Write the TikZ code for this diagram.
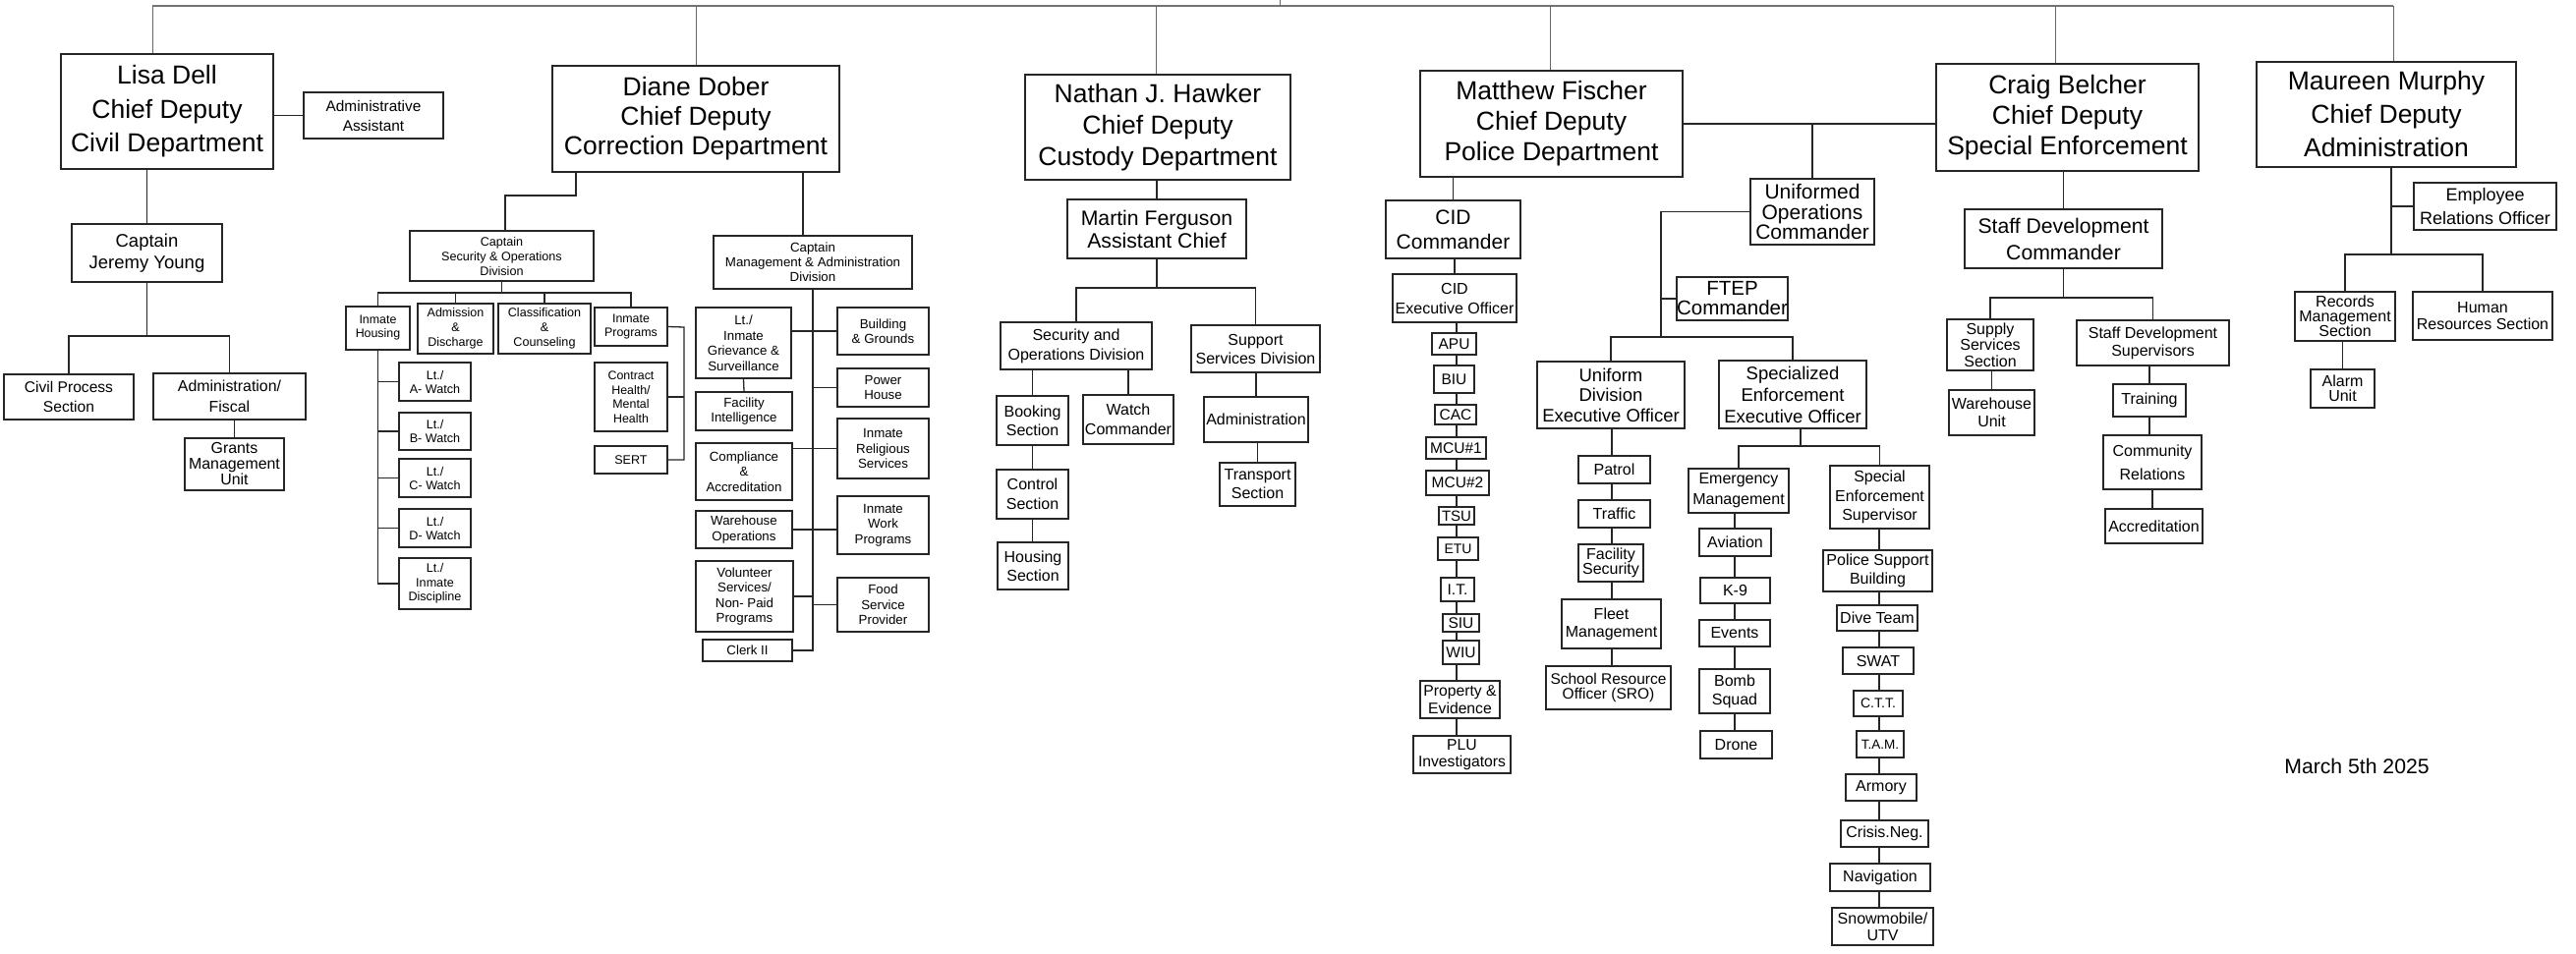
\documentclass[tikz,border=0pt]{standalone}
\usepackage{fontspec}
\setmainfont{Liberation Sans}
\newcommand{\fsz}[2]{\fontsize{#1}{#2}\selectfont}
\tikzset{
  bx/.style={draw=black!85,line width=1.4pt,inner sep=0pt,align=center,fill=white},
  ln/.style={draw=black!85,line width=1.3pt},
  topln/.style={draw=black!55,line width=2.6pt},
  drop/.style={draw=black!60,line width=1pt}
}
\newcommand{\bx}[7]{\node[bx,font={#6},minimum width={#4-#2},minimum height={#5-#3}] (#1) at ({(#2+#4)/2},{(#3+#5)/2}) {#7};}
\begin{document}
\begin{tikzpicture}[x=1pt,y=-1pt]
\useasboundingbox[fill=white] (0,0) rectangle (2621,971);
% ---------------- top level
\coordinate (trunkTop) at (1302,0);
\coordinate (trunkBot) at (1302,6);
\coordinate (tLisa) at (155,6);
\coordinate (tDiane) at (708,6);
\coordinate (tNathan) at (1176,6);
\coordinate (tMatt) at (1577,6);
\coordinate (tCraig) at (2091,6);
\coordinate (tMaureen) at (2435,6);
% chiefs
\bx{lisa}{62}{55}{278}{172}{\fsz{26.5}{34.5}}{Lisa Dell\\Chief Deputy\\Civil Department}
\bx{diane}{562}{67}{854}{175}{\fsz{26.5}{30}}{Diane Dober\\Chief Deputy\\Correction Department}
\bx{nathan}{1043}{76}{1313}{183}{\fsz{26.5}{32}}{Nathan J. Hawker\\Chief Deputy\\Custody Department}
\bx{matt}{1445}{72}{1712}{180}{\fsz{26.5}{31}}{Matthew Fischer\\Chief Deputy\\Police Department}
\bx{craig}{1970}{65}{2237}{174}{\fsz{26.5}{31}}{Craig Belcher\\Chief Deputy\\Special Enforcement}
\bx{maureen}{2296}{63}{2560}{170}{\fsz{26.5}{34}}{Maureen Murphy\\Chief Deputy\\Administration}
\draw[topln] (tLisa) -- (tMaureen);
\draw[drop] (trunkTop) -- (trunkBot);
\foreach \t/\n in {tLisa/lisa,tDiane/diane,tNathan/nathan,tMatt/matt,tCraig/craig,tMaureen/maureen}
  \draw[drop] (\t) -- (\t |- \n.north);
% ---------------- civil
\bx{aa}{309}{94}{451}{141}{\fsz{15.4}{20}}{Administrative\\Assistant}
\bx{jy}{73}{228}{226}{287}{\fsz{18.5}{22}}{Captain\\Jeremy Young}
\bx{cps}{4}{381}{136}{427}{\fsz{15.6}{20}}{Civil Process\\Section}
\bx{af}{156}{380}{311}{427}{\fsz{15.9}{21}}{Administration/\\Fiscal}
\bx{gmu}{188}{446}{289}{499}{\fsz{15.9}{16}}{Grants\\Management\\Unit}
\coordinate (jyB) at (150,342);
\draw[ln] (aa.west) -- (aa.west -| lisa.east);
\draw[ln] (jy.north) -- (jy.north |- lisa.south);
\draw[ln] (jy.south) -- (jy.south |- jyB);
\draw[ln] (cps.north) |- (af.north |- jyB) -- (af.north);
\draw[ln] (gmu.north) -- (gmu.north |- af.south);
% ---------------- corrections
\bx{cso}{417}{235}{604}{286}{\fsz{12.6}{15}}{Captain\\Security \& Operations\\Division}
\bx{cma}{726}{240}{928}{294}{\fsz{13.3}{15}}{Captain\\Management \& Administration\\Division}
\coordinate (dR) at (817,199);
\coordinate (dL) at (586,199);
\coordinate (dLL) at (514,199);
\draw[ln] (dR |- diane.south) -- (dR |- cma.north);
\draw[ln] (dL |- diane.south) -- (dL) -- (dLL) -- (dLL |- cso.north);
\coordinate (sbus) at (513,298);
\bx{ih}{352}{312}{417}{356}{\fsz{12.4}{14}}{Inmate\\Housing}
\bx{ad}{425}{309}{502}{360}{\fsz{12.5}{15}}{Admission\\\&\\Discharge}
\bx{cc}{507}{309}{601}{360}{\fsz{12.6}{15}}{Classification\\\&\\Counseling}
\bx{ip}{605}{313}{679}{352}{\fsz{12.4}{14}}{Inmate\\Programs}
\draw[ln] (cso.south) -- (cso.south |- sbus);
\draw[ln] (ih.north) |- (ip.north |- sbus) -- (ip.north);
\draw[ln] (ad.north) -- (ad.north |- sbus);
\draw[ln] (cc.north) -- (cc.north |- sbus);
\bx{wa}{406}{369}{479}{408}{\fsz{12.6}{14}}{Lt./\\A- Watch}
\bx{wb}{406}{420}{479}{458}{\fsz{12.6}{14}}{Lt./\\B- Watch}
\bx{wc}{406}{467}{479}{506}{\fsz{12.6}{14}}{Lt./\\C- Watch}
\bx{wd}{406}{518}{479}{557}{\fsz{12.6}{14}}{Lt./\\D- Watch}
\bx{wdis}{406}{568}{479}{620}{\fsz{12.6}{14.5}}{Lt./\\Inmate\\Discipline}
\draw[ln] (ih.south) |- (wdis.west);
\foreach \n in {wa,wb,wc,wd} \draw[ln] (\n.west) -- (\n.west -| ih.south);
\bx{ch}{605}{369}{679}{439}{\fsz{12.4}{14.5}}{Contract\\Health/\\Mental\\Health}
\bx{sert}{605}{454}{679}{482}{\fsz{12.6}{14}}{SERT}
\coordinate (pb) at (696,333);
\draw[ln] (ip.east) -- (pb) |- (sert.east);
\draw[ln] (ch.east) -- (ch.east -| pb);
\bx{gs}{708}{313}{805}{385}{\fsz{13.3}{15.5}}{Lt./\\Inmate\\Grievance \&\\Surveillance}
\bx{fi}{708}{399}{806}{438}{\fsz{13.3}{15.5}}{Facility\\Intelligence}
\bx{ca}{708}{451}{806}{509}{\fsz{13.3}{15.5}}{Compliance\\\&\\Accreditation}
\bx{wo}{708}{520}{806}{558}{\fsz{13.3}{15.5}}{Warehouse\\Operations}
\bx{vs}{708}{571}{807}{643}{\fsz{13.3}{15.5}}{Volunteer\\Services/\\Non- Paid\\Programs}
\bx{clk}{715}{651}{806}{673}{\fsz{13.3}{15}}{Clerk II}
\bx{bg}{852}{313}{945}{361}{\fsz{13.3}{15}}{Building\\\& Grounds}
\bx{ph}{852}{375}{945}{414}{\fsz{13.3}{15}}{Power\\House}
\bx{irs}{852}{426}{945}{487}{\fsz{13.3}{15.5}}{Inmate\\Religious\\Services}
\bx{iwp}{852}{505}{945}{564}{\fsz{13.3}{15.5}}{Inmate\\Work\\Programs}
\bx{fsp}{852}{588}{945}{643}{\fsz{13.3}{15.5}}{Food\\Service\\Provider}
\draw[ln] (cma.south) -- (cma.south |- clk.east) -- (clk.east);
\draw[ln] (gs.east |- bg.west) -- (bg.west);
\draw[ln] (gs.south) -- (fi.north);
\draw[ln] (ph.west) -- (ph.west -| cma.south);
\draw[ln] (irs.west) -- (irs.west -| ca.east);
\draw[ln] (wo.east) -- (wo.east -| iwp.west);
\draw[ln] (vs.east) -- (vs.east -| cma.south);
\draw[ln] (fsp.west) -- (fsp.west -| cma.south);
% ---------------- custody
\bx{mf}{1086}{203}{1268}{263}{\fsz{21.2}{23}}{Martin Ferguson\\Assistant Chief}
\bx{sod}{1018}{328}{1172}{376}{\fsz{16}{20}}{Security and\\Operations Division}
\bx{ssd}{1212}{331}{1343}{379}{\fsz{16}{19}}{Support\\Services Division}
\bx{bk}{1014}{403}{1087}{453}{\fsz{16}{19}}{Booking\\Section}
\bx{wcm}{1102}{402}{1194}{452}{\fsz{16}{20}}{Watch\\Commander}
\bx{ctl}{1014}{478}{1087}{528}{\fsz{16}{20}}{Control\\Section}
\bx{hs}{1015}{552}{1087}{600}{\fsz{16}{19}}{Housing\\Section}
\bx{adm}{1225}{404}{1331}{450}{\fsz{16}{19}}{Administration}
\bx{trs}{1241}{471}{1318}{515}{\fsz{16}{19}}{Transport\\Section}
\coordinate (cbus) at (1170,293);
\draw[ln] (mf.north) -- (mf.north |- nathan.south);
\draw[ln] (mf.south) -- (mf.south |- cbus);
\draw[ln] (sod.north) |- (ssd.north |- cbus) -- (ssd.north);
\draw[ln] (bk.north) -- (bk.north |- sod.south);
\draw[ln] (wcm.north) -- (wcm.north |- sod.south);
\draw[ln] (bk.south) -- (ctl.north);
\draw[ln] (ctl.south) -- (ctl.south |- hs.north);
\draw[ln] (adm.north) -- (adm.north |- ssd.south);
\draw[ln] (trs.north) -- (trs.north |- adm.south);
% ---------------- police
\bx{cidc}{1410}{204}{1547}{263}{\fsz{21}{25}}{CID\\Commander}
\bx{cide}{1417}{279}{1543}{328}{\fsz{16}{20}}{CID\\Executive Officer}
\bx{apu}{1457}{339}{1502}{361}{\fsz{15.5}{17}}{APU}
\bx{biu}{1459}{372}{1500}{400}{\fsz{15.5}{17}}{BIU}
\bx{cac}{1460}{412}{1502}{432}{\fsz{15.5}{17}}{CAC}
\bx{mcua}{1451}{445}{1512}{467}{\fsz{15.5}{17}}{MCU\#1}
\bx{mcub}{1451}{479}{1515}{504}{\fsz{15.5}{17}}{MCU\#2}
\bx{tsu}{1464}{516}{1500}{534}{\fsz{15}{17}}{TSU}
\bx{etu}{1463}{547}{1504}{570}{\fsz{14}{15}}{ETU}
\bx{itu}{1466}{588}{1500}{612}{\fsz{15.5}{17}}{I.T.}
\bx{siu}{1468}{625}{1505}{643}{\fsz{15.5}{17}}{SIU}
\bx{wiu}{1468}{652}{1505}{676}{\fsz{15.5}{17}}{WIU}
\bx{pe}{1445}{693}{1526}{731}{\fsz{15.7}{18}}{Property \&\\Evidence}
\bx{plu}{1438}{749}{1537}{787}{\fsz{15.7}{16.5}}{PLU\\Investigators}
\coordinate (cx) at (1482,0);
\draw[ln] (cidc.north) -- (cidc.north |- matt.south);
\draw[ln] (cide.north) -- (cide.north |- cidc.south);
\foreach \a/\b in {cide/apu,apu/biu,biu/cac,cac/mcua,mcua/mcub,mcub/tsu,tsu/etu,etu/itu,itu/siu,siu/wiu,wiu/pe,pe/plu}
  \draw[ln] (\a.south -| cx) -- (\b.north -| cx);
\draw[ln] (matt.east) -- (matt.east -| craig.west);
\bx{uoc}{1781}{182}{1907}{249}{\fsz{21}{20.5}}{Uniformed\\Operations\\Commander}
\bx{ftep}{1709}{282}{1816}{326}{\fsz{20.5}{20}}{FTEP\\Commander}
\bx{udeo}{1564}{368}{1714}{436}{\fsz{18.5}{20.5}}{Uniform\\Division\\Executive Officer}
\bx{seeo}{1749}{367}{1899}{436}{\fsz{18.5}{22}}{Specialized\\Enforcement\\Executive Officer}
\coordinate (ub) at (1690,343);
\draw[ln] (uoc.north) -- (uoc.north |- matt.east);
\draw[ln] (uoc.west) -| (ub);
\draw[ln] (ftep.west) -- (ftep.west -| ub);
\draw[ln] (udeo.north) |- (seeo.north |- ub) -- (seeo.north);
\bx{patrol}{1606}{464}{1679}{492}{\fsz{16}{18}}{Patrol}
\bx{traffic}{1606}{509}{1679}{537}{\fsz{16}{18}}{Traffic}
\bx{facsec}{1606}{554}{1672}{592}{\fsz{16}{15.5}}{Facility\\Security}
\bx{fleet}{1589}{610}{1690}{660}{\fsz{16}{18}}{Fleet\\Management}
\bx{sro}{1573}{678}{1700}{722}{\fsz{15.5}{14.5}}{School Resource\\Officer (SRO)}
\coordinate (ux) at (1640,0);
\foreach \a/\b in {udeo/patrol,patrol/traffic,traffic/facsec,facsec/fleet,fleet/sro}
  \draw[ln] (\a.south -| ux) -- (\b.north -| ux);
\coordinate (sb) at (1832,454);
\draw[ln] (sb |- seeo.south) -- (sb);
\bx{em}{1718}{477}{1820}{522}{\fsz{16}{21}}{Emergency\\Management}
\bx{ses}{1862}{474}{1963}{538}{\fsz{16}{19.5}}{Special\\Enforcement\\Supervisor}
\draw[ln] (em.north) |- (ses.north |- sb) -- (ses.north);
\bx{aviation}{1729}{538}{1802}{566}{\fsz{16}{18}}{Aviation}
\bx{kn}{1730}{588}{1801}{614}{\fsz{16}{18}}{K-9}
\bx{events}{1729}{631}{1801}{658}{\fsz{16}{18}}{Events}
\bx{bomb}{1729}{681}{1801}{726}{\fsz{16}{19}}{Bomb\\Squad}
\bx{drone}{1730}{744}{1803}{772}{\fsz{16}{18}}{Drone}
\coordinate (ex) at (1765,0);
\foreach \a/\b in {em/aviation,aviation/kn,kn/events,events/bomb,bomb/drone}
  \draw[ln] (\a.south -| ex) -- (\b.north -| ex);
\bx{psb}{1855}{560}{1966}{602}{\fsz{16}{19.5}}{Police Support\\Building}
\bx{dive}{1869}{616}{1951}{642}{\fsz{16}{18}}{Dive Team}
\bx{swat}{1875}{659}{1947}{686}{\fsz{16}{18}}{SWAT}
\bx{ctt}{1886}{703}{1936}{729}{\fsz{14}{15}}{C.T.T.}
\bx{tam}{1889}{744}{1937}{771}{\fsz{13.5}{15}}{T.A.M.}
\bx{armory}{1878}{788}{1950}{815}{\fsz{16}{18}}{Armory}
\bx{crisis}{1873}{835}{1962}{862}{\fsz{16}{18}}{Crisis.Neg.}
\bx{nav}{1862}{879}{1964}{907}{\fsz{16}{18}}{Navigation}
\bx{snow}{1864}{924}{1967}{962}{\fsz{16}{17}}{Snowmobile/\\UTV}
\coordinate (sx) at (1912,0);
\foreach \a/\b in {ses/psb,psb/dive,dive/swat,swat/ctt,ctt/tam,tam/armory,armory/crisis,crisis/nav,nav/snow}
  \draw[ln] (\a.south -| sx) -- (\b.north -| sx);
% ---------------- special enforcement
\bx{sdc}{1999}{213}{2200}{273}{\fsz{21.2}{27}}{Staff Development\\Commander}
\bx{sss}{1981}{325}{2069}{377}{\fsz{16}{16.5}}{Supply\\Services\\Section}
\bx{sds}{2113}{326}{2268}{372}{\fsz{16}{18}}{Staff Development\\Supervisors}
\bx{whu}{1983}{397}{2070}{443}{\fsz{16}{18}}{Warehouse\\Unit}
\bx{trn}{2150}{391}{2224}{424}{\fsz{16}{18}}{Training}
\bx{cr}{2140}{443}{2240}{498}{\fsz{16}{24}}{Community\\Relations}
\bx{acc}{2142}{518}{2241}{553}{\fsz{16}{18}}{Accreditation}
\coordinate (sdb) at (2099,303);
\draw[ln] (sdc.north) -- (sdc.north |- craig.south);
\draw[ln] (sdc.south) -- (sdc.south |- sdb);
\draw[ln] (sss.north) |- (sds.north |- sdb) -- (sds.north);
\draw[ln] (whu.north) -- (whu.north |- sss.south);
\draw[ln] (trn.north) -- (trn.north |- sds.south);
\draw[ln] (trn.south) -- (trn.south |- cr.north);
\draw[ln] (cr.south) -- (cr.south |- acc.north);
% ---------------- administration
\bx{ero}{2456}{186}{2601}{234}{\fsz{18}{24}}{Employee\\Relations Officer}
\bx{rms}{2335}{297}{2437}{347}{\fsz{16}{15}}{Records\\Management\\Section}
\bx{hrs}{2455}{297}{2597}{346}{\fsz{16}{17}}{Human\\Resources Section}
\bx{alarm}{2351}{376}{2416}{415}{\fsz{16}{15}}{Alarm\\Unit}
\coordinate (mb) at (2433,259);
\draw[ln] (mb |- maureen.south) -- (mb);
\draw[ln] (ero.west) -- (ero.west -| mb);
\draw[ln] (rms.north) |- (hrs.north |- mb) -- (hrs.north);
\draw[ln] (alarm.north) -- (alarm.north |- rms.south);
% date
\node[font={\fsz{21.2}{24}},inner sep=0pt] (date) at (2398,780) {March 5th 2025};
\end{tikzpicture}
\end{document}
